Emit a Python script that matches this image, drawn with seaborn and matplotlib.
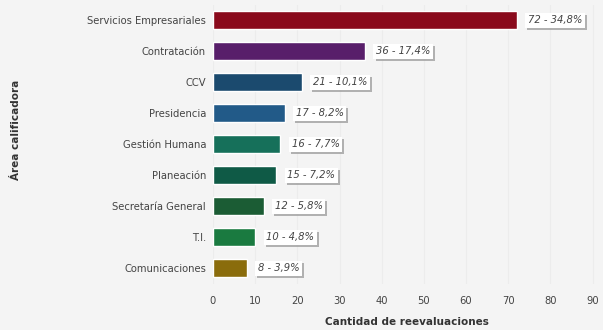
import matplotlib
matplotlib.use("Agg")
import matplotlib.pyplot as plt
import matplotlib.patheffects as pe
import seaborn as sns
import pandas as pd

categories = ["Servicios Empresariales", "Contratación", "CCV", "Presidencia",
              "Gestión Humana", "Planeación", "Secretaría General", "T.I.", "Comunicaciones"]
values = [72, 36, 21, 17, 16, 15, 12, 10, 8]
percent_labels = ["34,8%", "17,4%", "10,1%", "8,2%", "7,7%", "7,2%", "5,8%", "4,8%", "3,9%"]
colors = ["#8a0a1c", "#581e6a", "#1b4a6e", "#225a88", "#16705a", "#0f5a46",
          "#1b5c34", "#1a7a40", "#8a6c0c"]
x_ticks = [0, 10, 20, 30, 40, 50, 60, 70, 80, 90]

df = pd.DataFrame({"area": categories, "count": values})

sns.set_theme(style="white")
plt.rcParams["font.family"] = ["DejaVu Sans"]

bg = "#f4f4f4"
fig = plt.figure(figsize=(6.03, 3.30), dpi=100, facecolor=bg)
ax = fig.add_axes([213/603, 46.5/330, 388/603, 279/330])
ax.set_facecolor(bg)

sns.barplot(data=df, y="area", x="count", hue="area", palette=colors,
            orient="h", width=0.56, dodge=False, legend=False, ax=ax,
            saturation=1)

ax.set_xlim(0, 92)
ax.set_xticks(x_ticks)
ax.grid(axis="x", color="#ececec", linewidth=0.8)
ax.set_axisbelow(True)
for s in ax.spines.values():
    s.set_visible(False)
ax.tick_params(axis="y", length=0, labelsize=7.2, labelcolor="#444444", pad=5)
ax.tick_params(axis="x", length=0, labelsize=7.2, labelcolor="#444444", pad=9)
ax.set_xlabel("Cantidad de reevaluaciones", fontsize=7.5, fontweight="bold",
              color="#333333", labelpad=8)
ax.set_ylabel("Área calificadora", fontsize=7.5, fontweight="bold", color="#333333")
ax.yaxis.set_label_coords(-0.495, 0.55)

for i, (v, p) in enumerate(zip(values, percent_labels)):
    txt = f"{v} - {p}"
    t = ax.annotate(txt, xy=(v, i), xytext=(8, 0), textcoords="offset points",
                    ha="left", va="center", fontsize=7.2, style="italic", color="#444444",
                    bbox=dict(boxstyle="square,pad=0.25", fc="white", ec="none"))
    t.get_bbox_patch().set_path_effects(
        [pe.SimplePatchShadow(offset=(1.5, -1.5), shadow_rgbFace="#a0a0a0", alpha=0.8),
         pe.Normal()])

fig.savefig("out.png", dpi=100, facecolor=bg)
